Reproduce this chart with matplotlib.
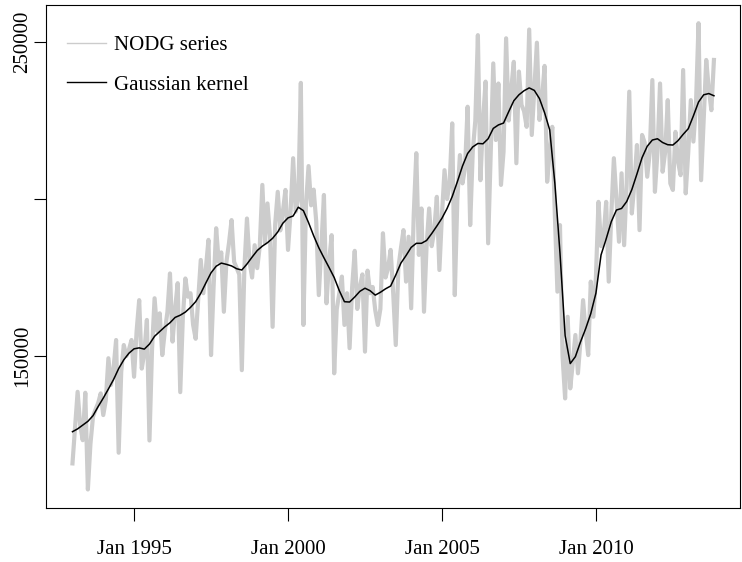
#! /usr/bin/env python
'''
NODG monthly series with a Gaussian kernel smooth
'''
import numpy as np
import matplotlib
matplotlib.use('Agg')
import matplotlib.pyplot as plt
from matplotlib.lines import Line2D

start_year = 1993

# NODG series, monthly from Jan 1993, in thousands
nodg_1993 = [115.8, 127, 138.6, 128, 123.2, 138.3, 107.5, 122, 130.7, 133, 135, 138.1]
nodg_1994 = [131.2, 136, 149.3, 140.8, 146, 155.1, 119.2, 145, 153.5, 150, 152, 155.1]
nodg_1995 = [143.4, 158, 167.8, 146, 151, 161.5, 123.1, 152, 168.4, 158, 163.6, 150.3]
nodg_1996 = [158, 164, 176.3, 154.6, 165, 173.2, 138.5, 162, 174.7, 168.9, 170, 160]
nodg_1997 = [155.5, 168, 180.6, 170, 178, 187, 150.3, 172, 190.7, 180, 183, 164.1]
nodg_1998 = [180, 186, 193.3, 180, 178, 176, 145.5, 178, 193.8, 180, 175, 185.3]
nodg_1999 = [178, 185, 204.5, 186, 198.6, 188, 159.3, 192, 202.3, 190, 196, 202.9]
nodg_2000 = [183.8, 196, 213, 196, 200, 237, 159.9, 198, 210.5, 198, 203, 192.8]
nodg_2001 = [169.4, 185, 201.3, 166.8, 180, 188.5, 144.5, 165, 170, 175.3, 159.9, 170]
nodg_2002 = [152.5, 172, 183.5, 165, 172, 176, 151.4, 177.2, 170, 172, 164.6, 159.9]
nodg_2003 = [165, 189.1, 175, 178, 183.8, 170, 153.5, 178, 184.3, 190.1, 173.7, 188]
nodg_2004 = [165.2, 195, 214.6, 182.2, 197, 164.1, 185, 197, 185, 190, 200.7, 177.4]
nodg_2005 = [195, 209.2, 200, 205, 224.1, 169.4, 200, 214, 205, 210, 229.4, 191.7]
nodg_2006 = [215, 225, 252.2, 206, 225, 237.4, 185.9, 215, 243.2, 218.8, 236.8, 204.5]
nodg_2007 = [215, 251.2, 225, 235, 243.7, 211.4, 240.6, 230, 228, 223, 254, 220.4]
nodg_2008 = [235, 249.8, 225.2, 232, 242.4, 205.5, 215, 223, 195, 170.5, 191.7, 150]
nodg_2009 = [136.5, 162.5, 139.7, 148, 156.7, 144.5, 155, 167.8, 158, 150.3, 173.7, 162.5]
nodg_2010 = [175, 199.1, 185, 188, 199.1, 173.7, 195, 213, 200, 186.4, 208.2, 185.3]
nodg_2011 = [205, 234.2, 195.4, 205, 217.2, 190.1, 220.4, 218, 207.1, 215, 237.9, 202.3]
nodg_2012 = [215, 236.8, 208.7, 215, 231.5, 205, 202.9, 221.4, 212, 207.6, 241.1, 201.8]
nodg_2013 = [215, 231.5, 218.3, 230, 256, 206, 225, 244.3, 235, 228.3, 244.3]

# Gaussian kernel smooth, read every 2 months from Jan 1993, in thousands
kern_1993 = [125.9, 126.8, 128.0, 129.2, 131.0, 133.9]
kern_1994 = [136.6, 139.5, 142.5, 146.0, 148.8, 150.9]
kern_1995 = [152.3, 152.6, 152.2, 153.8, 156.3, 157.8]
kern_1996 = [159.3, 160.6, 162.3, 163.0, 164.0, 165.5]
kern_1997 = [167.3, 170.0, 173.3, 176.5, 178.6, 179.6]
kern_1998 = [179.2, 178.7, 177.8, 177.4, 179.3, 181.5]
kern_1999 = [183.6, 185.0, 186.1, 187.5, 189.5, 192.3]
kern_2000 = [194.0, 194.6, 197.4, 196.3, 192.5, 188.3]
kern_2001 = [184.5, 181.3, 178.2, 175.0, 170.8, 167.3]
kern_2002 = [167.2, 168.8, 170.6, 171.6, 170.8, 169.4]
kern_2003 = [170.3, 171.4, 172.3, 175.8, 179.6, 182.0]
kern_2004 = [184.6, 185.9, 185.9, 186.8, 189.0, 191.4]
kern_2005 = [193.9, 197.0, 200.8, 205.5, 210.5, 214.5]
kern_2006 = [216.6, 217.7, 217.6, 219.2, 222.5, 223.6]
kern_2007 = [224.2, 227.8, 231.3, 233.2, 234.5, 235.4]
kern_2008 = [234.6, 232.0, 227.5, 222.0, 205.0, 182.8]
kern_2009 = [156.5, 147.6, 149.8, 154.5, 158.7, 163.5]
kern_2010 = [170.0, 182.2, 187.3, 192.8, 196.5, 197.0]
kern_2011 = [199.2, 203.0, 208.0, 213.2, 216.8, 218.8]
kern_2012 = [219.2, 218.0, 217.3, 217.2, 218.6, 220.6]
kern_2013 = [222.4, 226.5, 230.9, 233.2, 233.6, 232.9]

tick_years = [1995, 2000, 2005, 2010]
tick_labels = ['Jan 1995', 'Jan 2000', 'Jan 2005', 'Jan 2010']
ytick_vals = [150000, 200000, 250000]
ytick_labels = ['150000', '', '250000']


def DoFig(filename):
    plt.rc('font', family=['Liberation Serif', 'DejaVu Serif'], size=15)

    nodg = (nodg_1993 + nodg_1994 + nodg_1995 + nodg_1996 + nodg_1997 + nodg_1998 +
            nodg_1999 + nodg_2000 + nodg_2001 + nodg_2002 + nodg_2003 + nodg_2004 +
            nodg_2005 + nodg_2006 + nodg_2007 + nodg_2008 + nodg_2009 + nodg_2010 +
            nodg_2011 + nodg_2012 + nodg_2013)
    kern = (kern_1993 + kern_1994 + kern_1995 + kern_1996 + kern_1997 + kern_1998 +
            kern_1999 + kern_2000 + kern_2001 + kern_2002 + kern_2003 + kern_2004 +
            kern_2005 + kern_2006 + kern_2007 + kern_2008 + kern_2009 + kern_2010 +
            kern_2011 + kern_2012 + kern_2013)
    t = start_year + np.arange(len(nodg)) / 12.0
    tk = start_year + 2 * np.arange(len(kern)) / 12.0

    fig = plt.figure(figsize=(7.42, 5.62), dpi=100)
    ax = fig.add_axes([46/742., 1 - 508/562., (740 - 46)/742., (508 - 5)/562.])

    ax.plot(t, np.array(nodg) * 1000, color='#cccccc', lw=3)
    ax.plot(tk, np.array(kern) * 1000, color='black', lw=1.1)

    ax.set_xlim(1992.14, 2014.68)
    ax.set_ylim(101600, 261800)
    ax.set_xticks(tick_years)
    ax.set_xticklabels(tick_labels)
    ax.set_yticks(ytick_vals)
    ax.set_yticklabels(ytick_labels, rotation=90, va='center')
    ax.tick_params(direction='out', length=9, width=0.8, colors='black')
    ax.tick_params(axis='x', pad=14)
    ax.tick_params(axis='y', pad=1)
    for s in ax.spines.values():
        s.set_linewidth(0.8)

    handles = [Line2D([], [], color='#cccccc', lw=1),
               Line2D([], [], color='black', lw=1)]
    ax.legend(handles, ['NODG series', 'Gaussian kernel'], loc='upper left',
              bbox_to_anchor=(2/694., 1 - 12/503.),
              frameon=False, handlelength=1.9, handletextpad=0.35,
              labelspacing=0.95, borderaxespad=0.4, borderpad=0.5)

    fig.savefig(filename, dpi=100)


if __name__ == '__main__':
    DoFig('out.png')
